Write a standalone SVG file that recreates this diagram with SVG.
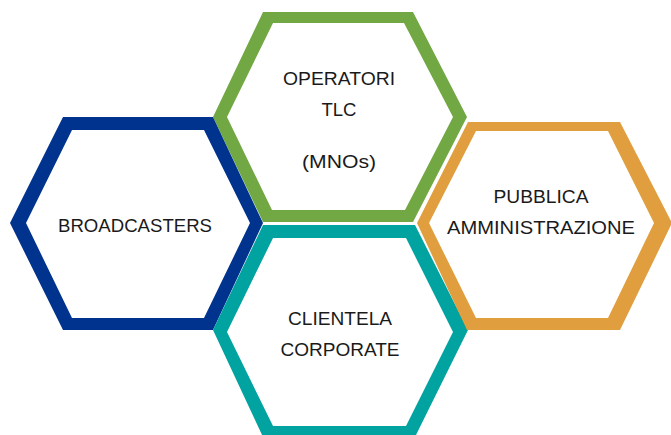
<svg xmlns="http://www.w3.org/2000/svg" width="671" height="435" viewBox="0 0 671 435">
<style>
.lbl{font-family:"Liberation Sans",Arial,sans-serif;font-size:19px;fill:#1a1a1a;text-anchor:middle}
.hex{fill-rule:evenodd}
</style>
<rect width="671" height="435" fill="#ffffff"/>
<g id="operatori">
<path class="hex" fill="#72A843" d="M263,12 L413,12 L467,117 L413,222 L263,222 L213,117 Z M273,23 L404,23 L453,117 L405,210 L272,210 L227,117 Z"/>
<text class="lbl" x="339" y="85" textLength="112" lengthAdjust="spacingAndGlyphs">OPERATORI</text>
<text class="lbl" x="339" y="116" textLength="35" lengthAdjust="spacingAndGlyphs">TLC</text>
<text class="lbl" x="339" y="168" textLength="74" lengthAdjust="spacingAndGlyphs">(MNOs)</text>
</g>
<g id="broadcasters">
<path class="hex" fill="#00338D" d="M63,117 L213,117 L263,223 L213,330 L63,330 L10,223 Z M72,130 L204,130 L250,223 L204,318 L72,318 L26,223 Z"/>
<text class="lbl" x="135" y="232" textLength="154" lengthAdjust="spacingAndGlyphs">BROADCASTERS</text>
</g>
<g id="clientela">
<path class="hex" fill="#00A39F" d="M263,225 L415,225 L468,330 L415,437 L263,437 L213,330 Z M273,238 L406,238 L453,332 L406,426 L273,426 L227,332 Z"/>
<text class="lbl" x="340" y="325" textLength="104" lengthAdjust="spacingAndGlyphs">CLIENTELA</text>
<text class="lbl" x="340" y="356" textLength="119" lengthAdjust="spacingAndGlyphs">CORPORATE</text>
</g>
<g id="pubblica">
<path class="hex" fill="#E09E3E" d="M468,122 L620,122 L672,223 L620,330 L467,330 L417,223 Z M476,131 L608,131 L654,223 L608,318 L476,318 L429,223 Z"/>
<text class="lbl" x="541" y="203" textLength="95" lengthAdjust="spacingAndGlyphs">PUBBLICA</text>
<text class="lbl" x="541" y="234" textLength="188" lengthAdjust="spacingAndGlyphs">AMMINISTRAZIONE</text>
</g>
<g id="connectors"/>
</svg>
